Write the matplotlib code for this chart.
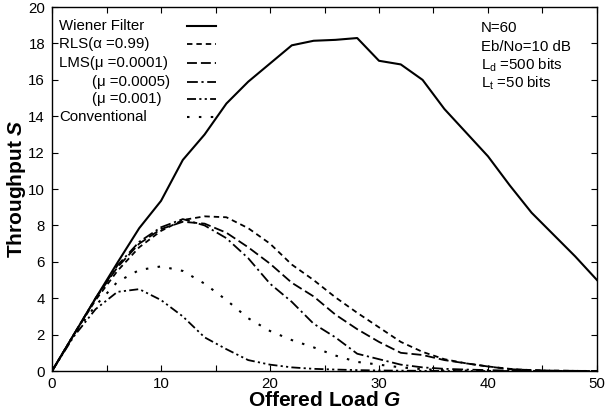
import matplotlib
matplotlib.use('Agg')
import matplotlib.pyplot as plt

plt.rcParams['font.family'] = ['Liberation Sans', 'DejaVu Sans']
plt.rcParams['mathtext.fontset'] = 'custom'
plt.rcParams['mathtext.rm'] = 'Liberation Sans'
plt.rcParams['mathtext.it'] = 'Liberation Sans:italic:bold'
plt.rcParams['mathtext.bf'] = 'Liberation Sans:bold'

# offered load G
G = [0, 2, 4, 6, 8, 10, 12, 14, 16, 18, 20, 22, 24, 26, 28, 30,
     32, 34, 36, 38, 40, 42, 44, 46, 48, 50]

# throughput S for each scheme
wiener = [0, 2.0, 4.0, 5.95, 7.85, 9.35, 11.6, 13.0, 14.7, 15.9, 16.9, 17.9, 18.15,
          18.2, 18.3, 17.05, 16.85, 16.0, 14.4, 13.1, 11.8, 10.2, 8.7, 7.5, 6.3, 5.0]
rls = [0, 2.0, 3.9, 5.5, 6.8, 7.7, 8.3, 8.5, 8.45, 7.85, 7.0, 5.85, 5.0,
       4.05, 3.2, 2.4, 1.6, 1.05, 0.65, 0.42, 0.25, 0.12, 0.05, 0.02, 0.01, 0]
lms1 = [0, 2.0, 4.0, 5.7, 7.0, 7.8, 8.2, 8.1, 7.6, 6.8, 5.9, 4.85, 4.1,
        3.1, 2.3, 1.6, 1.0, 0.88, 0.6, 0.42, 0.25, 0.1, 0.05, 0.02, 0.01, 0]
lms5 = [0, 2.0, 4.0, 5.8, 7.1, 7.9, 8.35, 8.0, 7.3, 6.2, 4.8, 3.8, 2.6,
        1.85, 0.95, 0.65, 0.35, 0.2, 0.12, 0.08, 0.05, 0.02, 0.01, 0, 0, 0]
lms10 = [0, 1.9, 3.4, 4.35, 4.5, 3.9, 3.0, 1.85, 1.2, 0.6, 0.35, 0.2, 0.12,
         0.08, 0.05, 0.03, 0.02, 0.01, 0, 0, 0, 0, 0, 0, 0, 0]
conv = [0, 2.0, 3.6, 4.9, 5.55, 5.75, 5.5, 4.8, 3.9, 2.9, 2.2, 1.7, 1.3,
        0.85, 0.5, 0.35, 0.2, 0.1, 0.05, 0.02, 0, 0, 0, 0, 0, 0]

labels = ['Wiener Filter', 'RLS(\u03b1 =0.99)', 'LMS(\u03bc =0.0001)',
          '(\u03bc =0.0005)', '(\u03bc =0.001)', 'Conventional']
params = ['N=60', 'Eb/No=10 dB', r'L$_{\mathrm{d}}$ =500 bits', r'L$_{\mathrm{t}}$ =50 bits']

styles = [
    dict(ls='-', lw=1.5),
    dict(ls=(0, (3, 2.2)), lw=1.3),
    dict(ls=(0, (5.5, 2.2)), lw=1.3),
    dict(ls=(0, (6, 2, 1.2, 2)), lw=1.3),
    dict(ls=(0, (5, 1.8, 1.2, 1.8, 1.2, 1.8)), lw=1.3),
    dict(ls=(0, (1.2, 4.5)), lw=1.5),
]

fig = plt.figure(figsize=(6.07, 4.18), dpi=100)
ax = fig.add_axes([0.0857, 0.1124, 0.8978, 0.8706])

series = [wiener, rls, lms1, lms5, lms10, conv]
for s, st in zip(series, styles):
    ax.plot(G, s, color='black', **st)

ax.set_xlim(0, 50)
ax.set_ylim(0, 20)
ax.set_xticks(range(0, 51, 5))
ax.set_xticklabels([str(v) if v % 10 == 0 else '' for v in range(0, 51, 5)])
ax.set_yticks(range(0, 21, 2))
ax.tick_params(direction='in', top=True, right=True, length=4, width=0.8,
               labelsize=10.8)
ax.tick_params(axis='x', pad=4)
ax.tick_params(axis='y', pad=5)
for sp in ax.spines.values():
    sp.set_linewidth(1.0)

ax.set_xlabel(r'Offered Load $\mathit{G}$', fontsize=15, fontweight='bold', labelpad=0)
ax.set_ylabel(r'Throughput $\mathit{S}$', fontsize=15, fontweight='bold', labelpad=0)

# legend drawn by hand (text left, line sample right)
row_y = [26, 44.3, 62.7, 81.7, 99.3, 117.3]
indent = [0, 0, 0, 1, 1, 0]
for lab, st, yp, ind in zip(labels, styles, row_y, indent):
    yf = 1 - yp / 418
    xt = (92 if ind else 59) / 607
    fig.text(xt, yf, lab, fontsize=10.8, va='center', ha='left')
    fig.add_artist(plt.Line2D([187 / 607, 216 / 607], [yf, yf], color='black',
                              transform=fig.transFigure, **st))

for i, p in enumerate(params):
    yp = 28.3 + i * 18.3
    fig.text(481 / 607, 1 - yp / 418, p, fontsize=10.8, va='center', ha='left')

fig.savefig('out.png', dpi=100)
